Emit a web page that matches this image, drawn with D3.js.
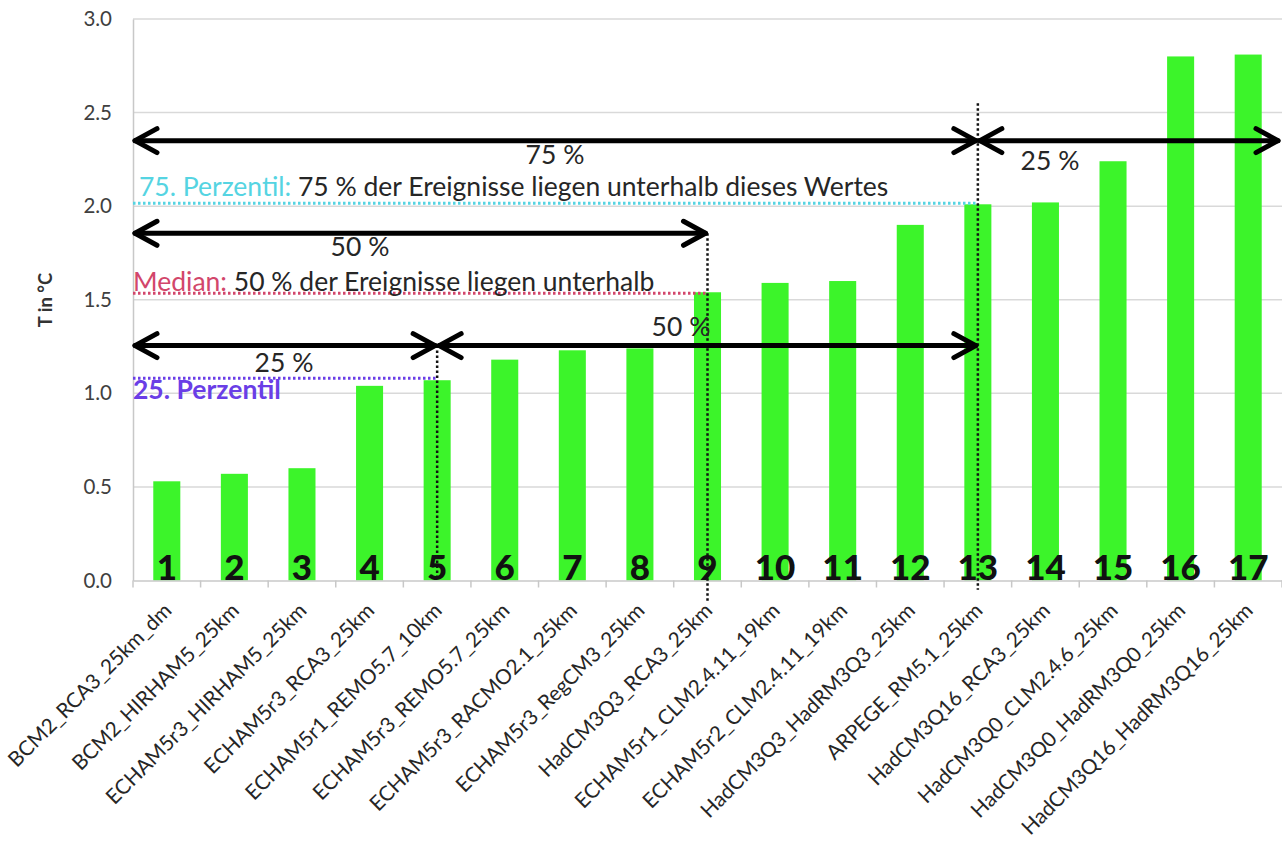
<!DOCTYPE html>
<html><head><meta charset="utf-8">
<script src="https://cdn.jsdelivr.net/npm/d3@7"></script>
<style>
html,body{margin:0;padding:0;background:#fff;}
svg{display:block;font-family:Lato,"Open Sans",sans-serif;}
</style></head>
<body>
<svg id="chart" width="1282" height="841"></svg>
<script>
// ---- data ----
const categories = ["BCM2_RCA3_25km_dm","BCM2_HIRHAM5_25km","ECHAM5r3_HIRHAM5_25km","ECHAM5r3_RCA3_25km",
  "ECHAM5r1_REMO5.7_10km","ECHAM5r3_REMO5.7_25km","ECHAM5r3_RACMO2.1_25km","ECHAM5r3_RegCM3_25km",
  "HadCM3Q3_RCA3_25km","ECHAM5r1_CLM2.4.11_19km","ECHAM5r2_CLM2.4.11_19km","HadCM3Q3_HadRM3Q3_25km",
  "ARPEGE_RM5.1_25km","HadCM3Q16_RCA3_25km","HadCM3Q0_CLM2.4.6_25km","HadCM3Q0_HadRM3Q0_25km","HadCM3Q16_HadRM3Q16_25km"];
const values = [0.53,0.57,0.60,1.04,1.07,1.18,1.23,1.24,1.54,1.59,1.60,1.90,2.01,2.02,2.24,2.80,2.81];
const rankLabels = ["1","2","3","4","5","6","7","8","9","10","11","12","13","14","15","16","17"];
const yTicks = [0,0.5,1.0,1.5,2.0,2.5,3.0];
const yTitle = "T in °C";
// percentiles: rank index (1-based), value
const percentiles = [
  {name:"25. Perzentil", rest:"", rank:5, value:1.08},
  {name:"Median:", rest:" 50 % der Ereignisse liegen unterhalb", rank:9, value:1.535},
  {name:"75. Perzentil:", rest:" 75 % der Ereignisse liegen unterhalb dieses Wertes", rank:13, value:2.015}
];
// arrows: from rank (0 = plot start, 18 = plot end) to rank, at value, with label
const arrows = [
  {from:0, to:13, value:2.35, label:"75 %"},
  {from:13, to:18, value:2.35, label:"25 %"},
  {from:0, to:9, value:1.855, label:"50 %"},
  {from:0, to:5, value:1.255, label:"25 %"},
  {from:5, to:13, value:1.255, label:"50 %"}
];

// ---- layout ----
const svg = d3.select("#chart");
const pLeft = 133, pRight = 1282, pTop = 19, pBottom = 580.5;
const annFont = 26.5;
const x = d3.scaleBand().domain(categories).range([pLeft, pRight]).paddingInner(0.6).paddingOuter(0.3);
const y = d3.scaleLinear().domain([0, 3]).range([pBottom, pTop]);
const cx = i => (i === 0 ? pLeft : i === 18 ? pRight - 2 : x(categories[i-1]) + x.bandwidth()/2);

// gridlines
svg.append("g").selectAll("line").data(yTicks.filter(d => d > 0)).join("line")
  .attr("x1", pLeft).attr("x2", pRight).attr("y1", d => y(d)).attr("y2", d => y(d))
  .attr("stroke", "#d9d9d9").attr("stroke-width", 1.5);

// y axis
const yAxis = svg.append("g").attr("transform", `translate(${pLeft},0)`)
  .call(d3.axisLeft(y).tickValues(yTicks).tickFormat(d3.format(".1f")).tickSize(0).tickPadding(21));
yAxis.select(".domain").attr("stroke", "#c8c8c8").attr("stroke-width", 1.5);
yAxis.selectAll("text").attr("font-size", 20.5).attr("fill", "#404040").attr("font-family", "Lato");

svg.append("text").attr("transform", `translate(52,300) rotate(-90)`)
  .attr("text-anchor", "middle").attr("font-size", 18.5).attr("font-weight", "bold").attr("fill", "#333")
  .text(yTitle);

// bars
svg.append("g").selectAll("rect").data(values).join("rect")
  .attr("x", (d, i) => x(categories[i])).attr("width", x.bandwidth())
  .attr("y", d => y(d)).attr("height", d => y(0) - y(d))
  .attr("fill", "#3cf42a");

// x axis
const xAxis = svg.append("g").attr("transform", `translate(0,${pBottom})`)
  .call(d3.axisBottom(x).tickSize(0).tickFormat(""));
xAxis.select(".domain").attr("stroke", "#c8c8c8").attr("stroke-width", 1.5);
svg.append("g").selectAll("line").data(d3.range(categories.length + 1)).join("line")
  .attr("x1", i => pLeft + i * x.step()).attr("x2", i => pLeft + i * x.step())
  .attr("y1", pBottom).attr("y2", pBottom + 7).attr("stroke", "#c8c8c8").attr("stroke-width", 1.5);

svg.append("g").selectAll("text").data(categories).join("text")
  .attr("transform", d => `translate(${x(d) + x.bandwidth()/2 + 6},612) rotate(-45)`)
  .attr("text-anchor", "end").attr("font-size", 20.8).attr("fill", "#262626")
  .text(d => d);

// rank numbers
svg.append("g").selectAll("text").data(rankLabels).join("text")
  .attr("x", (d, i) => x(categories[i]) + x.bandwidth()/2).attr("y", pBottom - 1)
  .attr("text-anchor", "middle").attr("font-size", 35).attr("font-weight", 900).attr("fill", "#111")
  .text(d => d);

// percentile lines
const pColors = ["#6a3ee6", "#d2466b", "#55d4e2"];
percentiles.forEach((p, k) => {
  svg.append("line").attr("x1", pLeft).attr("x2", cx(p.rank)).attr("y1", y(p.value)).attr("y2", y(p.value))
    .attr("stroke", pColors[k]).attr("stroke-width", 3).attr("stroke-dasharray", "2.5,2.5");
});
// vertical dotted lines
const vlines = [{rank:5, from:1.255, to:0}, {rank:9, from:1.855, to:-0.12}, {rank:13, from:2.55, to:-0.05}];
vlines.forEach(v => {
  svg.append("line").attr("x1", cx(v.rank)).attr("x2", cx(v.rank)).attr("y1", y(v.from)).attr("y2", y(v.to))
    .attr("stroke", "#111").attr("stroke-width", 2.5).attr("stroke-dasharray", "2.5,2.5");
});

// percentile texts
const t75 = svg.append("text").attr("x", 139).attr("y", 196).attr("font-size", annFont).attr("fill", "#262626");
t75.append("tspan").attr("fill", pColors[2]).text(percentiles[2].name);
t75.append("tspan").text(percentiles[2].rest);
const tMed = svg.append("text").attr("x", 133).attr("y", 291).attr("font-size", annFont).attr("fill", "#262626");
tMed.append("tspan").attr("fill", pColors[1]).text(percentiles[1].name);
tMed.append("tspan").text(percentiles[1].rest);
svg.append("text").attr("x", 133).attr("y", 399).attr("font-size", annFont).attr("font-weight", "bold")
  .attr("fill", pColors[0]).text(percentiles[0].name);

// arrows
const ag = svg.append("g").attr("stroke", "#000").attr("stroke-width", 5).attr("fill", "none")
  .attr("stroke-linecap", "round").attr("stroke-linejoin", "round");
arrows.forEach(a => {
  const x1 = cx(a.from), x2 = cx(a.to), yy = y(a.value);
  ag.append("line").attr("x1", x1 + 2).attr("x2", x2 - 2).attr("y1", yy).attr("y2", yy);
  ag.append("path").attr("d", `M${x1 + 24},${yy - 12} L${x1 + 2},${yy} L${x1 + 24},${yy + 12}`);
  ag.append("path").attr("d", `M${x2 - 24},${yy - 12} L${x2 - 2},${yy} L${x2 - 24},${yy + 12}`);
});
// arrow labels
const arrowLabelPos = [[555,164],[1050,170],[360,256],[284,372],[681,336]];
arrows.forEach((a, k) => {
  svg.append("text").attr("x", arrowLabelPos[k][0]).attr("y", arrowLabelPos[k][1])
    .attr("text-anchor", "middle").attr("font-size", annFont).attr("fill", "#262626").text(a.label);
});
</script>
</body></html>
